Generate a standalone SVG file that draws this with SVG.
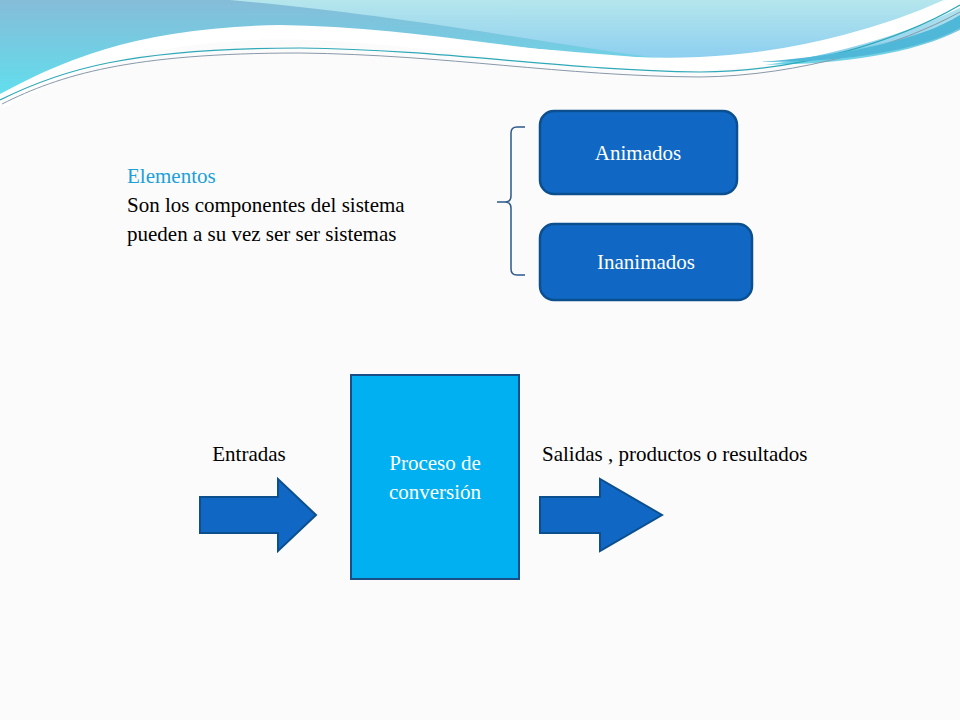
<svg xmlns="http://www.w3.org/2000/svg" width="960" height="720" viewBox="0 0 960 720">
<defs>
<linearGradient id="g1" x1="0" y1="0" x2="0" y2="1"><stop offset="0" stop-color="#86BCD8"/><stop offset="1" stop-color="#5FE0EE"/></linearGradient>
<linearGradient id="g2" x1="0" y1="0" x2="0" y2="1"><stop offset="0" stop-color="#B5E6EC"/><stop offset="1" stop-color="#8ACDF0"/></linearGradient>
<style>
.t{font-family:"Liberation Serif","DejaVu Serif",serif;font-size:21px;fill:#000}
.w{font-family:"Liberation Serif","DejaVu Serif",serif;font-size:21px;fill:#fff}
.box{fill:#1068C4;stroke:#0B4F8F;stroke-width:2.5}
.arr{fill:#1068C4;stroke:#0B4F8F;stroke-width:2}
</style>
</defs>
<rect width="960" height="720" fill="#FBFBFB"/>
<g id="header">
<path d="M0,0 H960 V30 C900,60 800,70 700,62 C600,55 450,40 290,32 C150,28 60,70 0,100 Z" fill="url(#g1)"/>
<path d="M230,0 H960 V20 C880,50 780,65 700,62 C600,55 450,20 230,0 Z" fill="url(#g2)"/>
<path d="M0,102 C60,70 130,35 280,32 C450,35 560,70 700,64 C800,60 900,30 960,0" fill="none" stroke="#FFFFFF" stroke-width="14"/>
<path d="M0,100 C60,70 130,48 300,48 C450,50 560,70 700,72 C800,72 900,40 960,5" fill="none" stroke="#2FA8B8" stroke-width="1.2"/>
<path d="M2,104 C60,75 130,53 300,53 C450,55 560,76 700,77 C800,76 900,45 960,12" fill="none" stroke="#8899AA" stroke-width="1"/>
<path d="M760,62 C850,55 920,40 960,15 V28 C920,50 850,62 760,62 Z" fill="#4FB8D8"/>
</g>
<g id="text-elementos">
<text class="t" x="127" y="183" style="fill:#1CA0D8">Elementos</text>
<text class="t" x="127" y="212">Son los componentes del sistema</text>
<text class="t" x="127" y="241">pueden a su vez ser ser sistemas</text>
</g>
<g id="connectors">
<path d="M525,127 H517 Q511,127 511,133 V196 Q511,202 505,202 H497 M505,202 Q511,202 511,208 V269 Q511,275 517,275 H525" fill="none" stroke="#2E5A8C" stroke-width="1.5"/>
</g>
<g id="animados"><rect class="box" x="540" y="111" width="197" height="83" rx="14"/><text class="w" x="638" y="160" text-anchor="middle">Animados</text></g>
<g id="inanimados"><rect class="box" x="540" y="224" width="212" height="76" rx="14"/><text class="w" x="646" y="269" text-anchor="middle">Inanimados</text></g>
<g id="entradas"><text class="t" x="249" y="461" text-anchor="middle">Entradas</text><path class="arr" d="M200,497 H278 V479 L316,515 L278,551 V533 H200 Z"/></g>
<g id="proceso"><rect x="351" y="375" width="168" height="204" fill="#00B0F0" stroke="#1A4E86" stroke-width="2"/><text class="w" x="435" y="470" text-anchor="middle">Proceso de</text><text class="w" x="435" y="499" text-anchor="middle">conversión</text></g>
<g id="salidas"><text class="t" x="542" y="461">Salidas , productos o resultados</text><path class="arr" d="M540,497 H600 V479 L662,515 L600,551 V533 H540 Z"/></g>
</svg>
